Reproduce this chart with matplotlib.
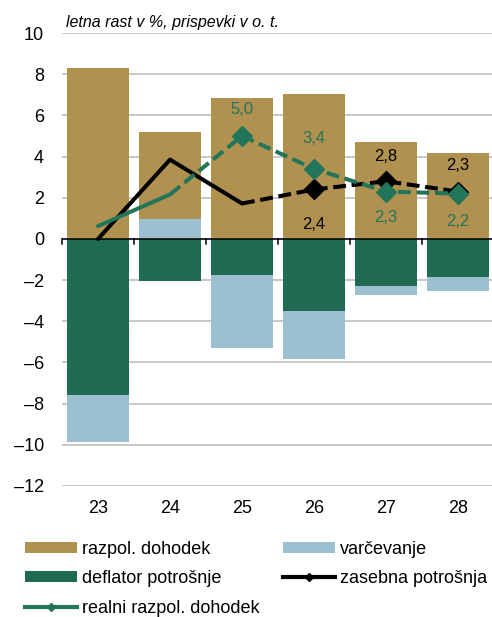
import matplotlib
matplotlib.use("Agg")
import matplotlib.pyplot as plt
from matplotlib.lines import Line2D
from matplotlib.patches import Patch
import numpy as np

plt.rcParams['font.family'] = ['Liberation Sans', 'DejaVu Sans']

years = ['23', '24', '25', '26', '27', '28']
razpol_dohodek = [8.28, 4.23, 6.85, 7.05, 4.72, 4.15]
varcevanje = [-2.28, 0.95, -3.57, -2.35, -0.40, -0.65]
deflator = [-7.60, -2.05, -1.73, -3.50, -2.30, -1.87]
zasebna = [0.0, 3.85, 1.72, 2.4, 2.8, 2.3]
realni = [0.62, 2.16, 5.0, 3.4, 2.3, 2.2]

C_TAN = '#B09150'
C_BLUE = '#9CC0CF'
C_GREEN = '#1F6A50'
C_LGREEN = '#237559'

fig = plt.figure(figsize=(4.92, 6.17), dpi=100)
ax = fig.add_axes([62/492, 131/617, 432/492, 453/617])

x = np.arange(len(years))
w = 0.86
pos_base = np.zeros(len(years))
neg_base = np.zeros(len(years))
# stacking order: deflator, varcevanje, razpol_dohodek
for vals, col in [(deflator, C_GREEN), (varcevanje, C_BLUE), (razpol_dohodek, C_TAN)]:
    v = np.array(vals)
    base = np.where(v >= 0, pos_base, neg_base)
    ax.bar(x, v, w, bottom=base, color=col, zorder=2, linewidth=0)
    pos_base = pos_base + np.where(v >= 0, v, 0)
    neg_base = neg_base + np.where(v < 0, v, 0)

ax.set_ylim(-12, 10)
ax.set_xlim(-0.5, 5.5)
ax.set_yticks(np.arange(-12, 11, 2))
ax.set_yticklabels([str(t).replace('-', '–') for t in range(-12, 11, 2)], fontsize=13)
ax.yaxis.grid(True, color='#c0c0c0', linewidth=1.2, zorder=0)
ax.set_axisbelow(True)
for s in ax.spines.values():
    s.set_visible(False)
ax.tick_params(axis='y', length=0, pad=13)
ax.set_xticks(x)
ax.set_xticklabels(years, fontsize=13)
ax.tick_params(axis='x', length=0, pad=10)

# zero axis with category boundary ticks
ax.axhline(0, color='black', linewidth=1.1, zorder=3)
for b in np.arange(-0.5, 5.6, 1):
    ax.plot([b, b], [0, -0.25], color='black', linewidth=1.1, zorder=3, clip_on=False)

# lines
lw = 2.9
ds = (3.2, 1.4)
ax.plot(x[:3], zasebna[:3], color='black', lw=lw, zorder=5, solid_capstyle='round')
ax.plot(x[2:], zasebna[2:], color='black', lw=lw, zorder=5, dashes=ds)
ax.plot(x[3:], zasebna[3:], linestyle='none', marker='D', markersize=10, color='black', zorder=6)

ax.plot(x[:2], realni[:2], color=C_LGREEN, lw=lw, zorder=5, solid_capstyle='round')
ax.plot(x[1:], realni[1:], color=C_LGREEN, lw=lw, zorder=5, dashes=ds)
ax.plot(x[2:], realni[2:], linestyle='none', marker='D', markersize=10, color=C_LGREEN, zorder=6)

def fmt(v):
    return f"{v:.1f}".replace('.', ',')

# labels
green_off = {2: 19, 3: 22, 4: -19, 5: -20}
for i, off in green_off.items():
    ax.annotate(fmt(realni[i]), (x[i], realni[i]), xytext=(0, off), textcoords='offset points',
                ha='center', va='center', fontsize=12, color=C_LGREEN, zorder=7)
black_off = {3: -25, 4: 18, 5: 19}
for i, off in black_off.items():
    ax.annotate(fmt(zasebna[i]), (x[i], zasebna[i]), xytext=(0, off), textcoords='offset points',
                ha='center', va='center', fontsize=12, color='black', zorder=7)

fig.text(66/492, 1 - 22/617, 'letna rast v %, prispevki v o. t.', fontsize=11.5,
         style='italic', ha='left', va='center')

handles = [
    Patch(facecolor=C_TAN, label='razpol. dohodek'),
    Patch(facecolor=C_GREEN, label='deflator potrošnje'),
    Line2D([0], [0], color=C_LGREEN, lw=3, marker='D', markersize=4, label='realni razpol. dohodek'),
    Patch(facecolor=C_BLUE, label='varčevanje'),
    Line2D([0], [0], color='black', lw=3, marker='D', markersize=4, label='zasebna potrošnja'),
]
leg = fig.legend(handles=handles, ncol=2, loc='upper left', bbox_to_anchor=(25/492, 1 - 541/617),
                 frameon=False, fontsize=13, handlelength=2.9, handleheight=0.55,
                 handletextpad=0.28, columnspacing=1.25, labelspacing=0.68, borderaxespad=0,
                 borderpad=0)

fig.savefig('out.png', dpi=100)
